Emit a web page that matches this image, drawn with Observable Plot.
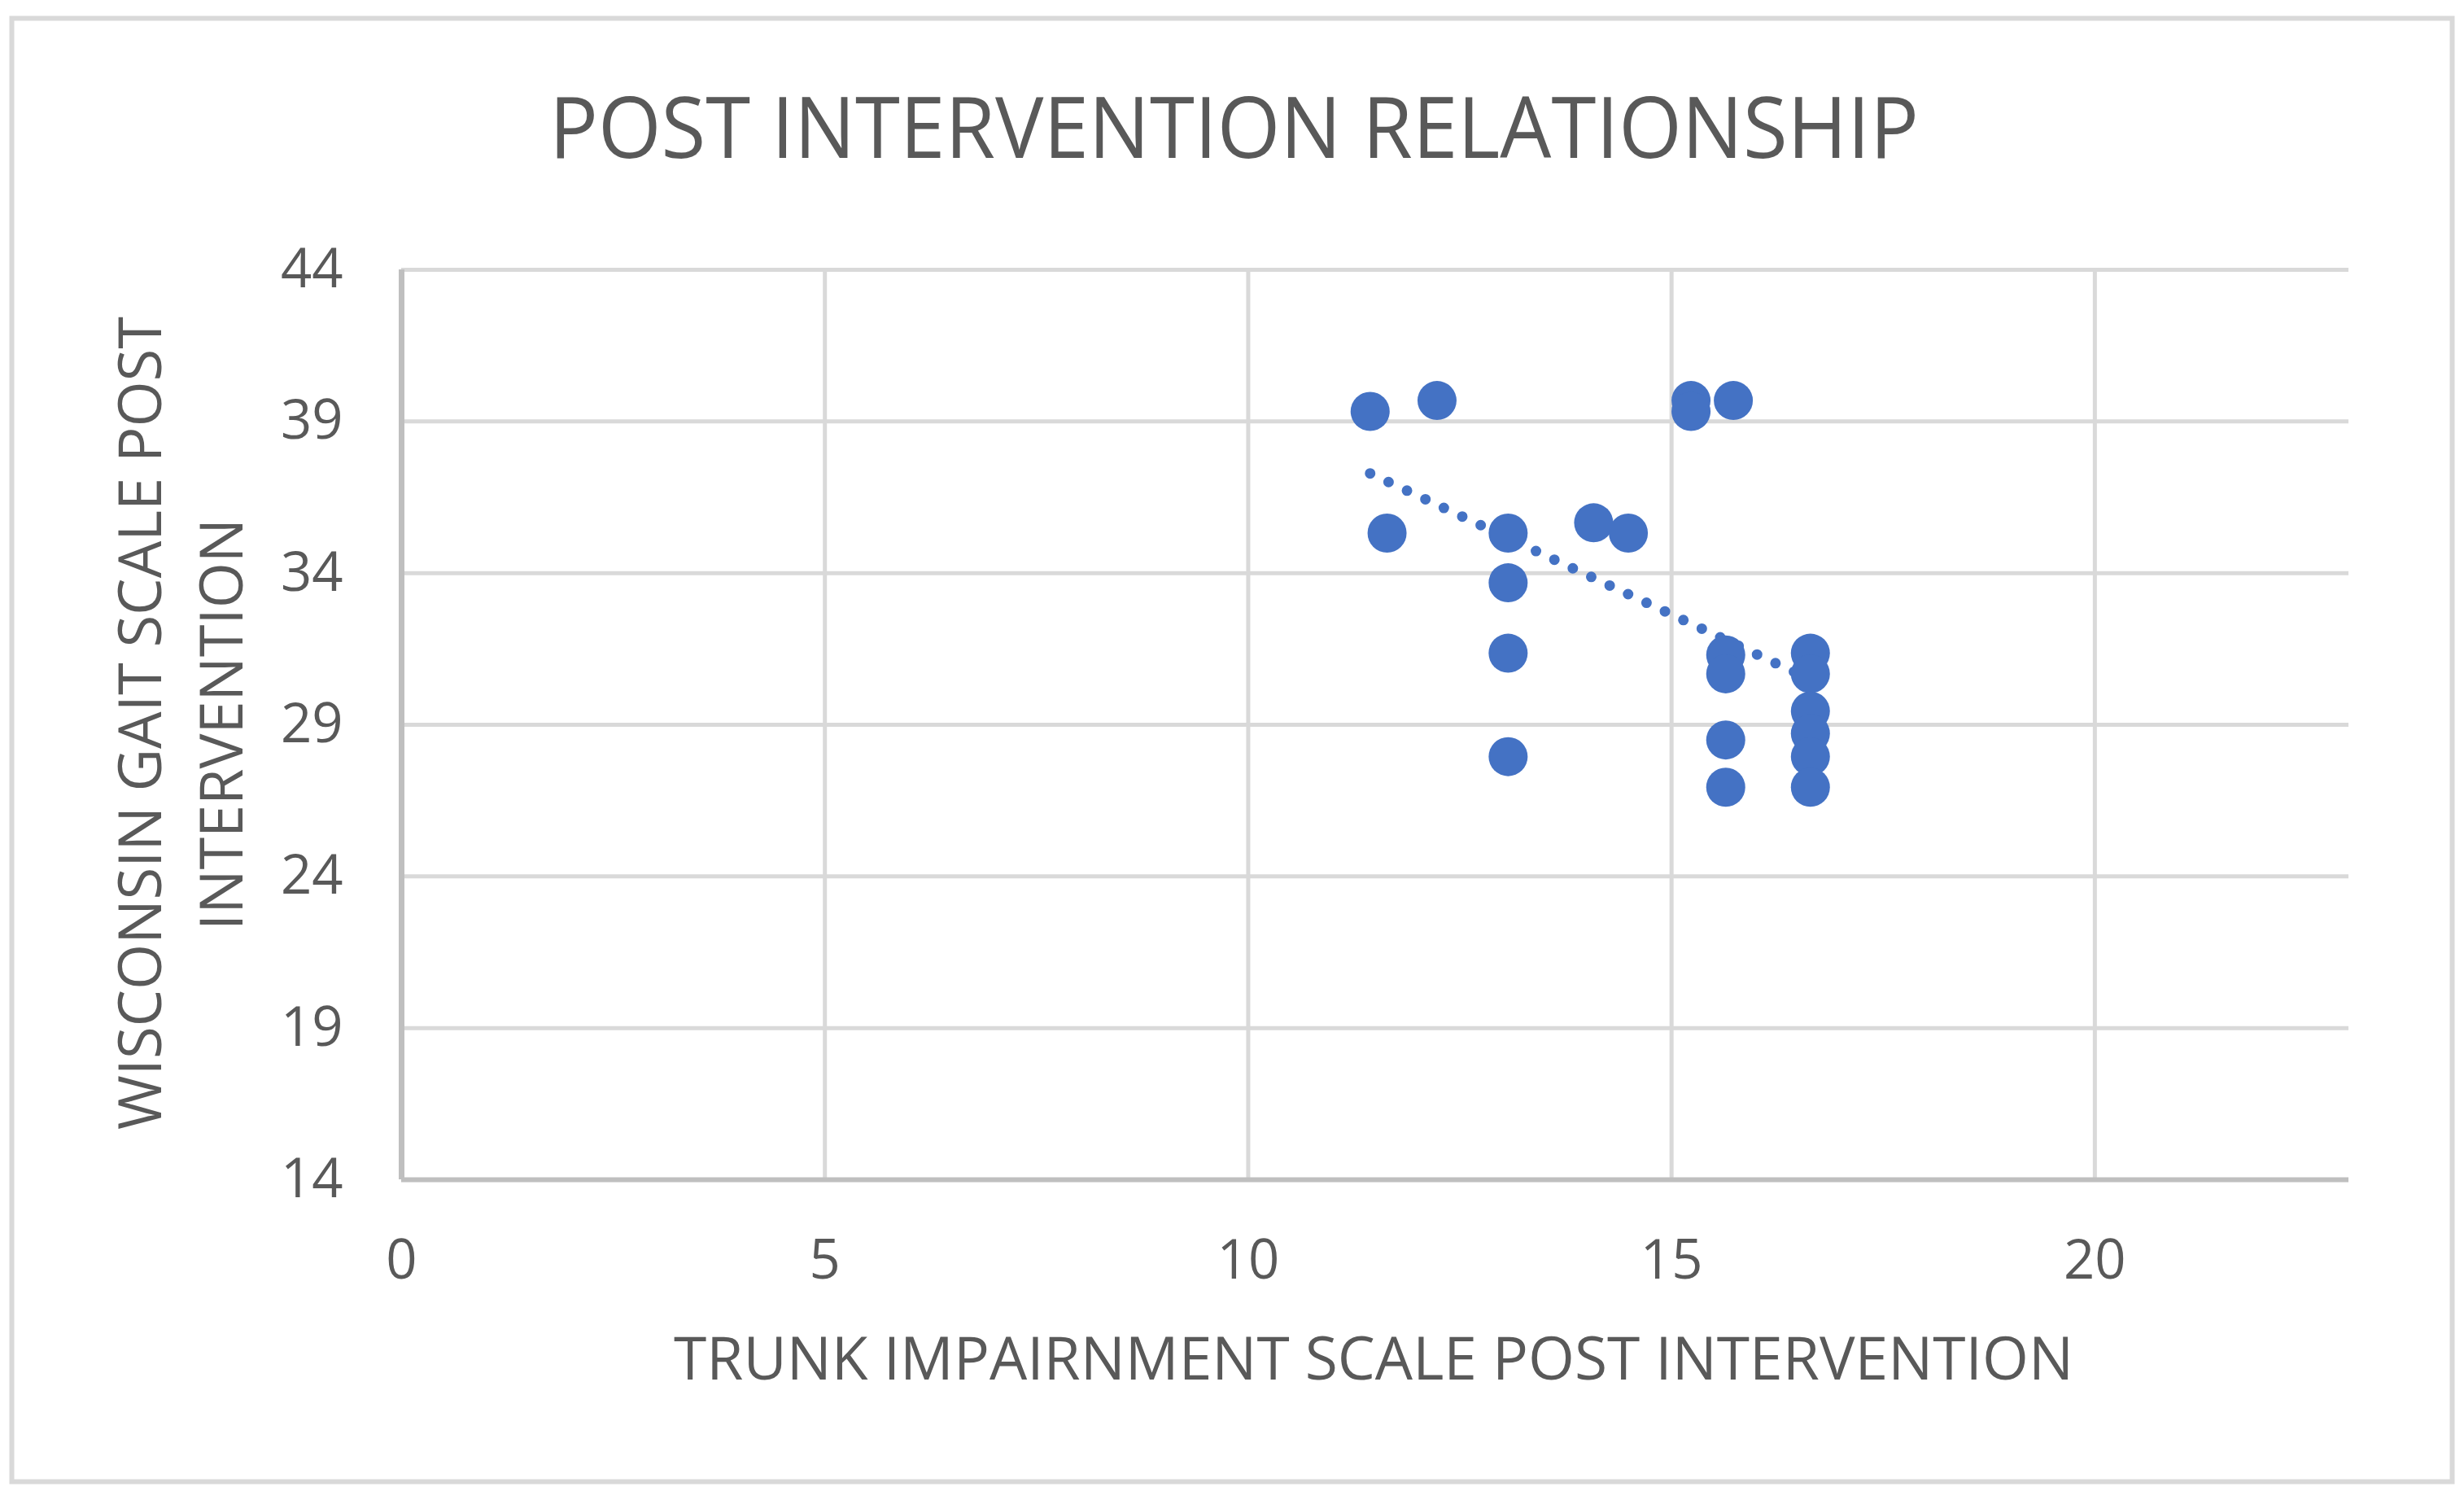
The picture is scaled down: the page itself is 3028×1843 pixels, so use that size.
<!DOCTYPE html>
<html>
<head>
<meta charset="utf-8">
<script src="https://cdn.jsdelivr.net/npm/d3@7"></script>
<script src="https://cdn.jsdelivr.net/npm/@observablehq/plot@0.6"></script>
<style>
  html, body { margin: 0; padding: 0; background: #ffffff; overflow: hidden; }
  #chart { position: relative; width: 3028px; height: 1843px; }
  #chart svg { display: block; }
</style>
</head>
<body>
<div id="chart"></div>
<script>
// ---- data ----
const titleText = "POST INTERVENTION RELATIONSHIP";
const xLabelText = "TRUNK IMPAIRNMENT SCALE POST INTERVENTION";
const yLabelLines = ["WISCONSIN GAIT SCALE POST", "INTERVENTION"];
const xTicks = [0, 5, 10, 15, 20];
const yTicks = [14, 19, 24, 29, 34, 39, 44];
const trunkScore = [11.44, 12.23, 15.23, 15.23, 15.73, 11.64, 13.07, 14.08, 14.49, 13.07, 13.07, 13.07,
                    15.64, 15.64, 15.64, 15.64, 16.64, 16.64, 16.64, 16.64, 16.64, 16.64];
const gaitScore  = [39.33, 39.69, 39.69, 39.33, 39.69, 35.32, 35.32, 35.66, 35.32, 33.68, 31.36, 27.95,
                    31.30, 30.68, 28.50, 26.94, 31.36, 30.68, 29.45, 28.71, 27.95, 26.94];

const data = trunkScore.map((x, i) => ({x, y: gaitScore[i]}));

const blue = "#4472C4";
const textColor = "#595959";
const font = "'Open Sans', 'Noto Sans', sans-serif";

const plot = Plot.plot({
  width: 3028,
  height: 1843,
  marginLeft: 493,
  marginRight: 142,
  marginTop: 331,
  marginBottom: 394,
  style: {fontFamily: font, fontSize: "67px", color: textColor, background: "white", overflow: "visible"},
  x: {domain: [0, 23], ticks: xTicks, tickSize: 0, tickPadding: 74, label: null},
  y: {domain: [14, 44], ticks: yTicks, tickSize: 0, tickPadding: 72, label: null},
  marks: [
    Plot.gridX(xTicks, {stroke: "#d9d9d9", strokeOpacity: 1, strokeWidth: 5}),
    Plot.gridY(yTicks, {stroke: "#d9d9d9", strokeOpacity: 1, strokeWidth: 5}),
    Plot.ruleX([0], {stroke: "#bfbfbf", strokeWidth: 7}),
    Plot.ruleY([14], {stroke: "#bfbfbf", strokeWidth: 6}),
    Plot.linearRegressionY(data, {x: "x", y: "y", ci: 0, stroke: blue, strokeWidth: 13,
      strokeDasharray: "0 25", strokeLinecap: "round"}),
    Plot.dot(data, {x: "x", y: "y", r: 24, fill: blue, stroke: "none"})
  ]
});

document.getElementById("chart").appendChild(plot);

const svg = d3.select(plot);

// outer chart border
svg.insert("rect", ":first-child")
  .attr("x", 14.5).attr("y", 22.5).attr("width", 2999).attr("height", 1798)
  .attr("fill", "none").attr("stroke", "#d9d9d9").attr("stroke-width", 6);

// title
svg.append("text")
  .text(titleText)
  .attr("x", 675).attr("y", 194)
  .attr("text-anchor", "start")
  .attr("font-family", font).attr("font-size", 104)
  .attr("fill", textColor)
  .attr("textLength", 1683).attr("lengthAdjust", "spacingAndGlyphs");

// x axis title
svg.append("text")
  .text(xLabelText)
  .attr("x", 828).attr("y", 1695)
  .attr("text-anchor", "start")
  .attr("font-family", font).attr("font-size", 74)
  .attr("fill", textColor)
  .attr("textLength", 1720).attr("lengthAdjust", "spacingAndGlyphs");

// y axis title (two lines, rotated)
const yLines = [
  {text: yLabelLines[0], bx: 198, start: 1388, len: 999},
  {text: yLabelLines[1], bx: 298, start: 1143, len: 506}
];
yLines.forEach(l => {
  svg.append("text")
    .text(l.text)
    .attr("transform", `translate(${l.bx},${l.start}) rotate(-90)`)
    .attr("text-anchor", "start")
    .attr("font-family", font).attr("font-size", 74)
    .attr("fill", textColor)
    .attr("textLength", l.len).attr("lengthAdjust", "spacingAndGlyphs");
});
</script>
</body>
</html>
